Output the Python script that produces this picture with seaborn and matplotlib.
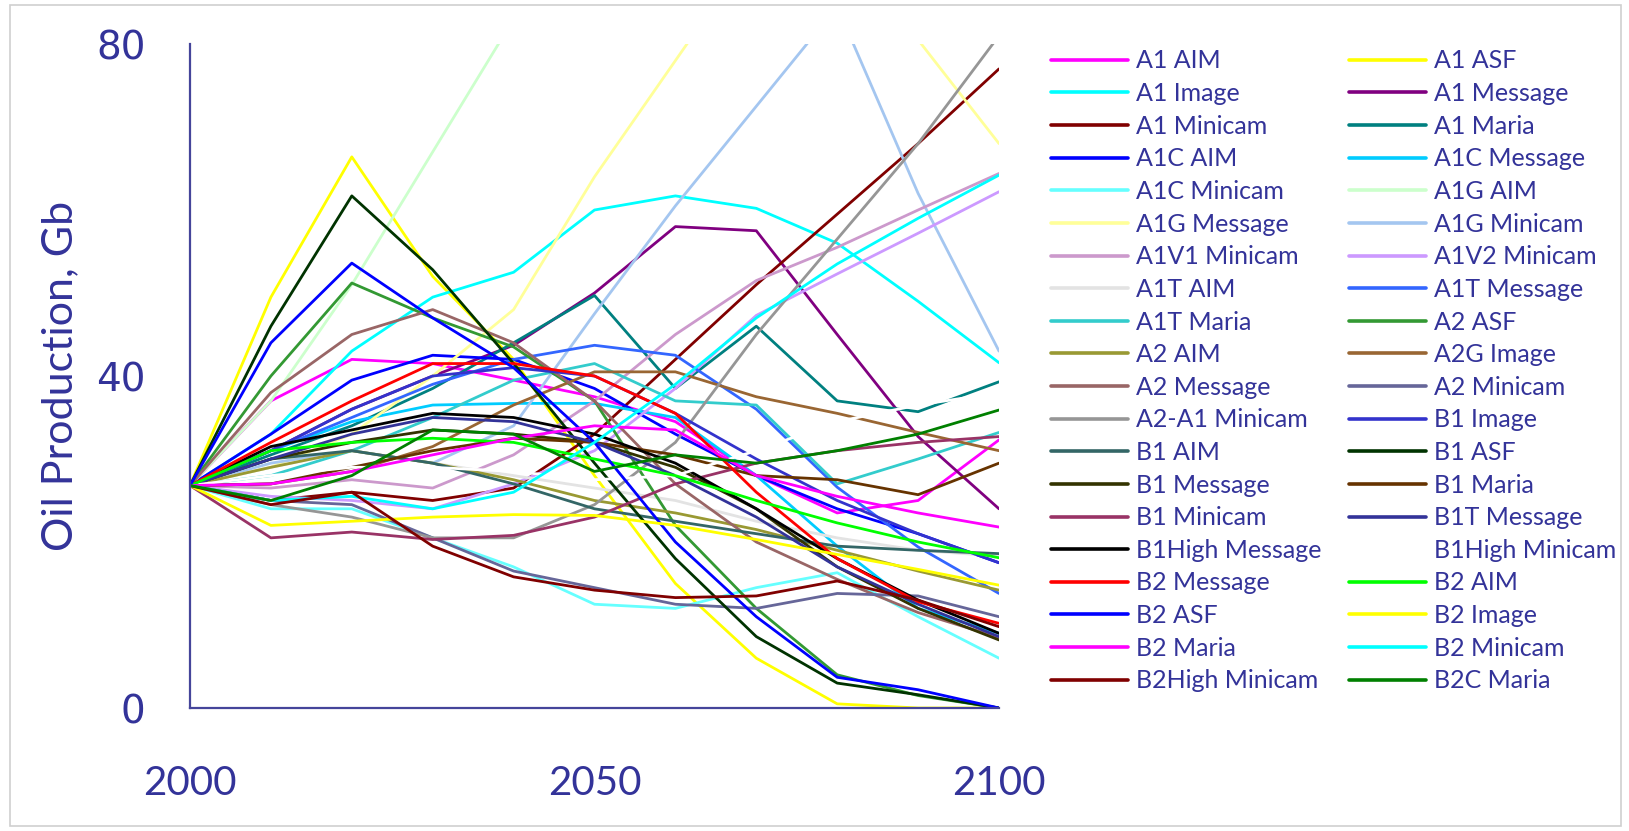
import numpy as np
import pandas as pd
import seaborn as sns
import matplotlib.pyplot as plt
from matplotlib.lines import Line2D
from matplotlib.patches import Rectangle
from matplotlib.ticker import MultipleLocator

years = [2000, 2010, 2020, 2030, 2040, 2050, 2060, 2070, 2080, 2090, 2100]

# oil production per scenario, Gb (one value per decade)
a1_aim = [26.8, 37.0, 42.0, 41.5, 39.5, 37.5, 34.5, 28.0, 23.5, 25.0, 32.3]
a1_asf = [26.8, 49.5, 66.4, 52.0, 42.0, 28.0, 15.0, 6.0, 0.5, 0.0, 0.0]
a1_image = [26.8, 33.0, 43.0, 49.5, 52.5, 60.0, 61.7, 60.2, 56.0, 49.0, 41.6]
a1_message = [26.8, 31.0, 36.0, 40.0, 43.7, 50.0, 58.0, 57.5, 45.0, 32.7, 24.0]
a1_minicam = [26.8, 25.0, 26.0, 25.0, 26.5, 33.0, 42.0, 51.0, 59.5, 68.0, 77.0]
a1_maria = [26.8, 30.5, 34.0, 38.5, 44.0, 49.7, 38.5, 46.0, 37.0, 35.7, 39.3]
a1c_aim = [26.8, 33.0, 39.5, 42.5, 42.0, 38.5, 33.0, 28.0, 24.0, 21.0, 17.5]
a1c_message = [26.8, 31.0, 34.5, 36.5, 36.7, 36.7, 35.0, 28.0, 19.5, 12.0, 9.0]
a1c_minicam = [26.8, 24.0, 24.0, 20.5, 17.0, 12.5, 12.0, 14.5, 16.3, 11.0, 6.0]
a1g_aim = [26.8, 37.0, 51.0, 67.0, 83.0, 99.0, 115.0, 130.0, 145.0, 160.0, 175.0]
a1g_message = [26.8, 29.0, 33.0, 40.0, 48.0, 64.0, 78.0, 92.0, 95.0, 80.5, 68.0]
a1g_minicam = [26.8, 29.5, 31.0, 29.5, 34.0, 47.5, 60.5, 72.5, 84.5, 62.0, 43.0]
a1v1_minicam = [26.8, 26.5, 27.5, 26.5, 30.5, 37.0, 45.0, 51.5, 55.5, 60.0, 64.4]
a1v2_minicam = [26.8, 25.5, 25.0, 24.0, 27.0, 31.0, 38.5, 47.3, 52.3, 57.2, 62.2]
a1t_aim = [26.8, 29.0, 31.0, 29.5, 28.0, 26.5, 25.0, 22.5, 20.5, 19.0, 18.3]
a1t_message = [26.8, 31.0, 35.0, 39.0, 42.0, 43.7, 42.5, 36.0, 26.6, 19.4, 13.8]
a1t_maria = [26.8, 28.0, 31.0, 35.0, 39.5, 41.5, 37.0, 36.5, 27.0, 30.0, 33.2]
a2_asf = [26.8, 40.0, 51.2, 47.0, 43.5, 37.0, 22.0, 12.0, 4.0, 1.5, 0.0]
a2_aim = [26.8, 29.0, 31.0, 29.5, 27.5, 25.0, 23.5, 21.5, 19.0, 16.5, 14.2]
a2g_image = [26.8, 27.0, 28.5, 31.5, 36.5, 40.5, 40.5, 37.5, 35.5, 33.2, 31.0]
a2_message = [26.8, 38.0, 45.0, 48.0, 44.0, 37.0, 27.0, 20.0, 15.5, 11.5, 8.5]
a2_minicam = [26.8, 25.0, 24.5, 20.5, 16.5, 14.5, 12.5, 12.0, 13.8, 13.5, 11.0]
a2_a1_minicam = [26.8, 24.5, 23.0, 20.5, 20.5, 24.5, 32.0, 45.0, 56.5, 68.0, 81.0]
b1_image = [26.8, 31.0, 36.0, 40.0, 41.0, 40.0, 35.5, 30.0, 25.0, 21.0, 17.5]
b1_aim = [26.8, 30.0, 31.0, 29.5, 27.0, 24.0, 22.5, 21.0, 19.5, 19.0, 18.6]
b1_asf = [26.8, 46.0, 61.7, 52.8, 41.5, 29.5, 18.0, 8.6, 3.0, 1.6, 0.0]
b1_message = [26.8, 30.0, 32.0, 33.5, 33.0, 32.0, 29.0, 24.0, 17.0, 12.0, 8.2]
b1_maria = [26.8, 27.0, 29.0, 31.0, 32.5, 32.0, 30.5, 28.0, 27.5, 25.7, 29.5]
b1_minicam = [26.8, 20.5, 21.2, 20.3, 20.8, 23.0, 27.0, 29.5, 31.0, 32.0, 32.7]
b1t_message = [26.8, 30.0, 33.0, 35.0, 34.5, 32.0, 28.0, 23.0, 17.0, 12.5, 8.6]
b1high_message = [26.8, 31.5, 33.5, 35.5, 35.0, 33.0, 29.5, 24.0, 18.0, 13.0, 9.0]
b1high_minicam = [26.8, 28.0, 29.0, 29.0, 28.5, 27.5, 28.0, 31.0, 34.5, 36.5, 38.0]
b2_message = [26.8, 32.0, 37.0, 41.5, 41.5, 40.0, 35.5, 26.0, 18.0, 12.8, 10.2]
b2_aim = [26.8, 31.0, 32.0, 32.5, 32.0, 30.0, 28.0, 25.0, 22.3, 20.0, 18.1]
b2_asf = [26.8, 44.0, 53.6, 47.0, 41.0, 32.0, 20.0, 11.0, 3.7, 2.2, 0.0]
b2_image = [26.8, 22.0, 22.5, 23.0, 23.3, 23.2, 22.0, 20.3, 18.5, 16.7, 14.8]
b2_maria = [26.8, 27.0, 28.5, 30.5, 32.5, 34.0, 33.5, 28.0, 25.5, 23.5, 21.8]
b2_minicam = [26.8, 25.0, 25.5, 24.0, 26.0, 32.0, 39.0, 47.0, 53.5, 59.0, 64.2]
b2high_minicam = [26.8, 24.5, 26.0, 19.5, 15.8, 14.2, 13.3, 13.5, 15.3, 13.0, 9.8]
b2c_maria = [26.8, 25.0, 28.0, 33.5, 33.0, 28.5, 30.5, 29.5, 31.0, 33.0, 35.9]

names = ['A1 AIM', 'A1 ASF', 'A1 Image', 'A1 Message', 'A1 Minicam', 'A1 Maria',
         'A1C AIM', 'A1C Message', 'A1C Minicam', 'A1G AIM', 'A1G Message',
         'A1G Minicam', 'A1V1 Minicam', 'A1V2 Minicam', 'A1T AIM', 'A1T Message',
         'A1T Maria', 'A2 ASF', 'A2 AIM', 'A2G Image', 'A2 Message', 'A2 Minicam',
         'A2-A1 Minicam', 'B1 Image', 'B1 AIM', 'B1 ASF', 'B1 Message', 'B1 Maria',
         'B1 Minicam', 'B1T Message', 'B1High Message', 'B1High Minicam',
         'B2 Message', 'B2 AIM', 'B2 ASF', 'B2 Image', 'B2 Maria', 'B2 Minicam',
         'B2High Minicam', 'B2C Maria']

series = [a1_aim, a1_asf, a1_image, a1_message, a1_minicam, a1_maria,
          a1c_aim, a1c_message, a1c_minicam, a1g_aim, a1g_message,
          a1g_minicam, a1v1_minicam, a1v2_minicam, a1t_aim, a1t_message,
          a1t_maria, a2_asf, a2_aim, a2g_image, a2_message, a2_minicam,
          a2_a1_minicam, b1_image, b1_aim, b1_asf, b1_message, b1_maria,
          b1_minicam, b1t_message, b1high_message, b1high_minicam,
          b2_message, b2_aim, b2_asf, b2_image, b2_maria, b2_minicam,
          b2high_minicam, b2c_maria]

colors = ['#FF00FF', '#FFFF00', '#00FFFF', '#800080', '#800000', '#008080',
          '#0000FF', '#00CCFF', '#66FFFF', '#CCFFCC', '#FFFF99',
          '#A4C6F0', '#CC99CC', '#CC99FF', '#E3E3E3', '#3366FF',
          '#33CCCC', '#339933', '#999933', '#996633', '#996666', '#666699',
          '#969696', '#3333CC', '#336666', '#003300', '#333300', '#663300',
          '#993366', '#333399', '#000000', '#FFFFFF',
          '#FF0000', '#00FF00', '#0000FF', '#FFFF00', '#FF00FF', '#00FFFF',
          '#800000', '#008000']

text_c = '#333399'
axis_c = '#45459a'

rows = []
for name, vals in zip(names, series):
    for yr, v in zip(years, vals):
        rows.append((name, yr, v))
df = pd.DataFrame(rows, columns=['scenario', 'year', 'oil'])

sns.set_style('white')
plt.rcParams['font.family'] = ['Lato', 'DejaVu Sans']

fig = plt.figure(figsize=(16.29, 8.31), dpi=100)
ax = fig.add_axes([190 / 1629, 123 / 831, 809 / 1629, 664 / 831])

sns.lineplot(data=df, x='year', y='oil', hue='scenario', hue_order=names,
             palette=dict(zip(names, colors)), estimator=None, sort=False,
             linewidth=2.0, legend=False, ax=ax)

ax.set_xlim(2000, 2100)
ax.set_ylim(0, 80)
ax.set_xticks([2000, 2050, 2100])
ax.xaxis.set_minor_locator(MultipleLocator(10))
ax.set_yticks([0, 40, 80])
ax.yaxis.set_minor_locator(MultipleLocator(10))

for side in ['top', 'right']:
    ax.spines[side].set_visible(False)
for side in ['left', 'bottom']:
    ax.spines[side].set_color(axis_c)
    ax.spines[side].set_linewidth(1.6)

ax.tick_params(which='both', direction='in', color=axis_c, width=1.4)
ax.tick_params(axis='x', which='major', length=13, pad=41, labelsize=29, labelcolor=text_c)
ax.tick_params(axis='x', which='minor', length=10)
ax.tick_params(axis='y', which='both', length=12, pad=32, labelsize=28, labelcolor=text_c)
for lbl in ax.get_yticklabels():
    lbl.set_fontfamily('DejaVu Sans')

ax.set_xlabel('')
ax.set_ylabel('Oil Production, Gb', fontsize=31, color=text_c, labelpad=12)

# legend in two columns, row-wise like the original
handles = [Line2D([], [], color=c, lw=2.6) for c in colors]
leg_kw = dict(loc='upper left', frameon=False, fontsize=18, labelcolor=text_c,
              handlelength=3.1, handletextpad=0.3, labelspacing=0.385, borderpad=0)
fig.legend(handles[0::2], names[0::2], bbox_to_anchor=(1038 / 1629, 1 - 37 / 831), **leg_kw)
fig.legend(handles[1::2], names[1::2], bbox_to_anchor=(1336 / 1629, 1 - 37 / 831), **leg_kw)

fig.patches.append(Rectangle((10 / 1629, 5 / 831), 1611 / 1629, 821 / 831,
                             transform=fig.transFigure, fill=False,
                             edgecolor='#cfcfcf', lw=1.2))

fig.savefig('out.png', dpi=100)
